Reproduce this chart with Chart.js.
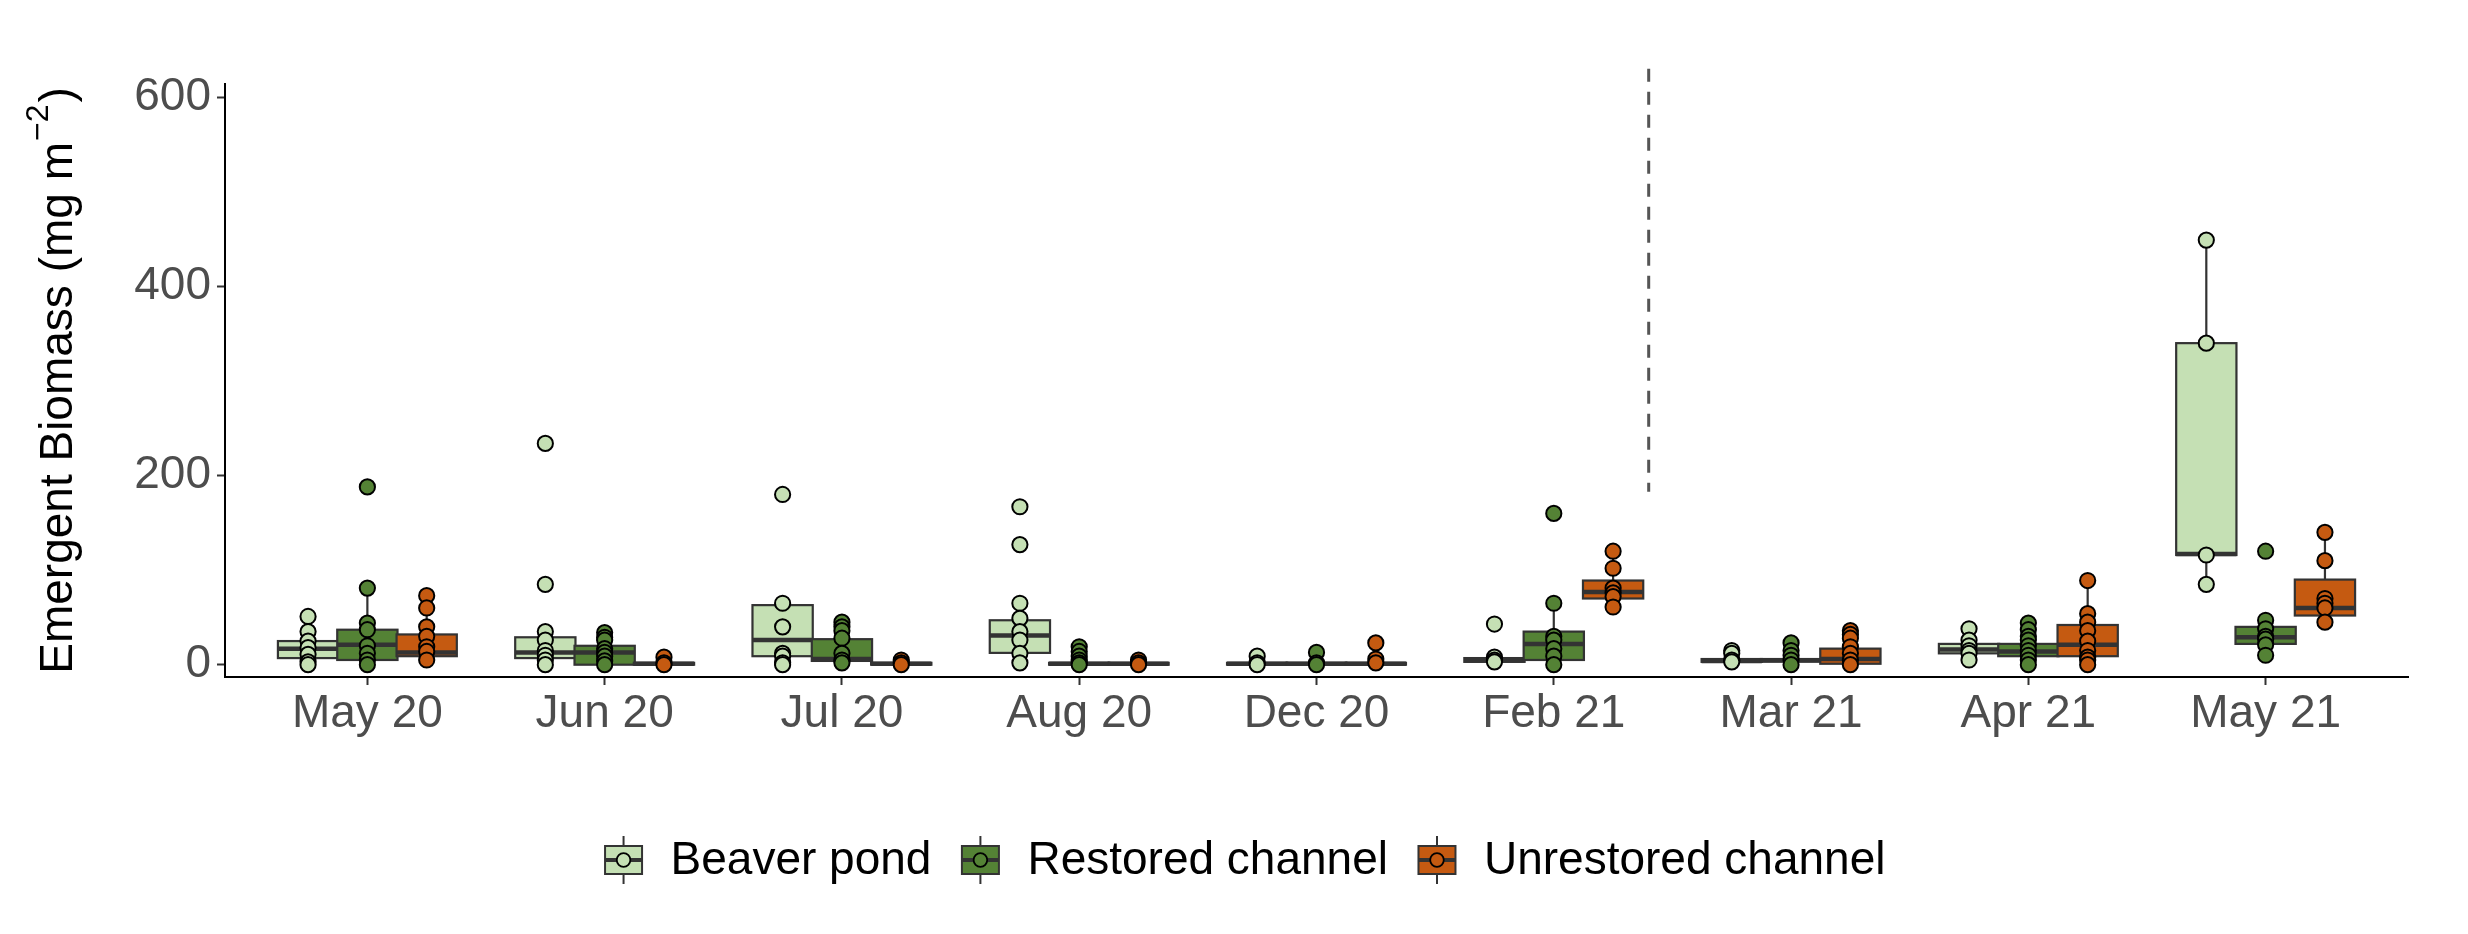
<!DOCTYPE html>
<html>
<head>
<meta charset="utf-8">
<script src="https://cdn.jsdelivr.net/npm/chart.js@4.4.1/dist/chart.umd.min.js"></script>
<style>
  html, body { margin: 0; padding: 0; background: #fff; }
  #wrap { width: 2468px; height: 934px; }
</style>
</head>
<body>
<div id="wrap"><canvas id="biomassChart" width="2468" height="934"></canvas></div>
<script>
const categories = ['May 20', 'Jun 20', 'Jul 20', 'Aug 20', 'Dec 20', 'Feb 21', 'Mar 21', 'Apr 21', 'May 21'];
const sites = ['Beaver pond', 'Restored channel', 'Unrestored channel'];
const siteColors = ['#C5E0B4', '#548235', '#C55A11'];
const yTicks = [0, 200, 400, 600];

// box summaries per sampling month (mg m-2)
const beaverLow    = [0, 0, 0, 2, 0, 3, 3, 5, 85];
const beaverQ1     = [7, 7, 9, 12.5, 0, 3, 3, 12, 116];
const beaverMedian = [17, 13, 26, 31, 1, 5, 4, 16, 117];
const beaverQ3     = [25, 29, 63, 47, 2, 7, 6, 22, 340];
const beaverHigh   = [51, 35, 65, 65, 2, 8, 10, 38, 449];

const restoredLow    = [0, 0, 2, 0, 0, 0, 0, 0, 10];
const restoredQ1     = [5, 0, 4, 0, 0, 5, 3.5, 9, 22];
const restoredMedian = [21, 13, 6, 1, 1, 22, 4.5, 14, 29];
const restoredQ3     = [37, 20, 27, 2, 2, 35, 6, 22, 40];
const restoredHigh   = [81, 34, 45, 2, 2, 65, 6, 40, 47];

const unrestoredLow    = [5, 0, 0, 0, 0, 61, 0, 0, 45];
const unrestoredQ1     = [9, 0, 0, 0, 0, 70, 1, 9, 52];
const unrestoredMedian = [13, 1, 1, 1, 1, 77, 6, 21, 60];
const unrestoredQ3     = [32, 2, 2, 2, 2, 89, 17, 42, 90];
const unrestoredHigh   = [60, 2, 2, 2, 5, 120, 36, 89, 140];

// individual samples
const beaverPoints = [
  [51, 35, 25, 18, 11, 3, 0],
  [234, 85, 35, 26, 15, 10, 5, 0],
  [180, 65, 40, 12, 9, 2, 0],
  [167, 127, 65, 49, 35, 26, 12, 2],
  [9, 2, 0],
  [43, 8, 5, 3],
  [15, 12, 5, 3],
  [38, 26, 20, 15, 12, 5],
  [449, 340, 116, 85]
];
const restoredPoints = [
  [188, 81, 44, 37, 20, 12, 5, 0],
  [34, 29, 26, 17, 13, 9, 4, 0],
  [45, 40, 36, 28, 12, 5, 2],
  [19, 14, 9, 5, 2, 0],
  [13, 2, 0],
  [160, 65, 30, 26, 17, 9, 0],
  [23, 15, 10, 5, 0],
  [44, 37, 30, 26, 20, 15, 10, 5, 0],
  [120, 47, 38, 30, 27, 21, 10]
];
const unrestoredPoints = [
  [73, 60, 40, 30, 19, 14, 5],
  [8, 2, 0],
  [5, 2, 0],
  [5, 2, 0],
  [23, 6, 2],
  [120, 102, 81, 76, 72, 61],
  [36, 32, 28, 19, 12, 5, 0],
  [89, 54, 45, 36, 25, 15, 8, 5, 0],
  [140, 110, 70, 65, 60, 45]
];

const dodge = [-0.25, 0, 0.25];
const boxHalf = 0.127;
const dividerX = 5.4;
const dividerRange = [183, 630];

const series = [
  { low: beaverLow, q1: beaverQ1, med: beaverMedian, q3: beaverQ3, high: beaverHigh, pts: beaverPoints },
  { low: restoredLow, q1: restoredQ1, med: restoredMedian, q3: restoredQ3, high: restoredHigh, pts: restoredPoints },
  { low: unrestoredLow, q1: unrestoredQ1, med: unrestoredMedian, q3: unrestoredQ3, high: unrestoredHigh, pts: unrestoredPoints }
];

const FONT = '"Liberation Sans", Arial, sans-serif';
Chart.defaults.font.family = FONT;
Chart.defaults.font.size = 46;

const POINT_R = 7.6;

const datasets = series.map((s, k) => ({
  label: sites[k],
  data: s.pts.flatMap((vals, i) => vals.map(v => ({ x: i + dodge[k], y: v }))),
  pointRadius: POINT_R,
  pointHoverRadius: POINT_R,
  pointBorderWidth: 2,
  pointBorderColor: '#000000',
  pointBackgroundColor: siteColors[k],
  showLine: false
}));

function drawBox(ctx, x, y, s, k, i) {
  const cx = x.getPixelForValue(i + dodge[k]);
  const left = x.getPixelForValue(i + dodge[k] - boxHalf);
  const right = x.getPixelForValue(i + dodge[k] + boxHalf);
  const yLow = y.getPixelForValue(s.low[i]);
  const yQ1 = y.getPixelForValue(s.q1[i]);
  const yMed = y.getPixelForValue(s.med[i]);
  const yQ3 = y.getPixelForValue(s.q3[i]);
  const yHigh = y.getPixelForValue(s.high[i]);

  ctx.strokeStyle = '#333333';
  ctx.lineWidth = 2.2;
  ctx.beginPath();
  ctx.moveTo(cx, yHigh); ctx.lineTo(cx, yQ3);
  ctx.moveTo(cx, yQ1); ctx.lineTo(cx, yLow);
  ctx.stroke();

  ctx.fillStyle = siteColors[k];
  ctx.fillRect(left, yQ3, right - left, yQ1 - yQ3);
  ctx.strokeRect(left, yQ3, right - left, yQ1 - yQ3);

  ctx.lineWidth = 4.5;
  ctx.beginPath();
  ctx.moveTo(left, yMed); ctx.lineTo(right, yMed);
  ctx.stroke();
}

const boxPlugin = {
  id: 'boxes',
  beforeDatasetsDraw(chart) {
    const { ctx, scales: { x, y } } = chart;
    ctx.save();
    series.forEach((s, k) => {
      categories.forEach((c, i) => drawBox(ctx, x, y, s, k, i));
    });
    ctx.restore();
  }
};

const extrasPlugin = {
  id: 'extras',
  afterDraw(chart) {
    const { ctx, scales: { x, y }, chartArea } = chart;
    ctx.save();

    // dashed divider between the two years
    const dx = x.getPixelForValue(dividerX);
    ctx.strokeStyle = '#555555';
    ctx.lineWidth = 3;
    ctx.setLineDash([13, 10]);
    ctx.beginPath();
    ctx.moveTo(dx, y.getPixelForValue(dividerRange[1]));
    ctx.lineTo(dx, y.getPixelForValue(dividerRange[0]));
    ctx.stroke();
    ctx.setLineDash([]);

    // y axis title with superscript
    const main = 'Emergent Biomass (mg m';
    const sup = '\u22122';
    ctx.fillStyle = '#000000';
    ctx.textBaseline = 'alphabetic';
    ctx.textAlign = 'left';
    ctx.font = '46px ' + FONT;
    const w1 = ctx.measureText(main).width;
    const w3 = ctx.measureText(')').width;
    ctx.font = '32px ' + FONT;
    const w2 = ctx.measureText(sup).width;
    const total = w1 + w2 + w3 + 3;
    ctx.translate(72, (chartArea.top + chartArea.bottom) / 2);
    ctx.rotate(-Math.PI / 2);
    let tx = -total / 2;
    ctx.font = '46px ' + FONT;
    ctx.fillText(main, tx, 0);
    tx += w1 + 1;
    ctx.font = '32px ' + FONT;
    ctx.fillText(sup, tx, -24);
    tx += w2 + 2;
    ctx.font = '46px ' + FONT;
    ctx.fillText(')', tx, 0);
    ctx.restore();

    // legend
    ctx.save();
    const keyW = 50, keyGap = 22, itemGap = 24, cy = 860;
    ctx.font = '46px ' + FONT;
    const widths = sites.map(t => ctx.measureText(t).width);
    const full = widths.reduce((a, w) => a + keyW + keyGap + w, 0) + itemGap * (sites.length - 1);
    let lx = 1242 - full / 2;
    sites.forEach((name, k) => {
      const kc = lx + keyW / 2;
      ctx.strokeStyle = '#333333';
      ctx.lineWidth = 2;
      ctx.beginPath();
      ctx.moveTo(kc, cy - 24); ctx.lineTo(kc, cy + 24);
      ctx.stroke();
      ctx.fillStyle = siteColors[k];
      ctx.fillRect(kc - 18.5, cy - 14, 37, 28);
      ctx.strokeRect(kc - 18.5, cy - 14, 37, 28);
      ctx.lineWidth = 4;
      ctx.beginPath();
      ctx.moveTo(kc - 18.5, cy); ctx.lineTo(kc + 18.5, cy);
      ctx.stroke();
      ctx.beginPath();
      ctx.arc(kc, cy, 6.8, 0, Math.PI * 2);
      ctx.fillStyle = siteColors[k];
      ctx.fill();
      ctx.lineWidth = 1.8;
      ctx.strokeStyle = '#000000';
      ctx.stroke();

      ctx.fillStyle = '#000000';
      ctx.textAlign = 'left';
      ctx.textBaseline = 'middle';
      ctx.fillText(name, lx + keyW + keyGap, cy + 1);
      lx += keyW + keyGap + widths[k] + itemGap;
    });
    ctx.restore();
  }
};

new Chart(document.getElementById('biomassChart'), {
  type: 'scatter',
  data: { datasets: datasets },
  options: {
    responsive: false,
    animation: false,
    devicePixelRatio: 1,
    layout: { padding: { top: 84, right: 60, bottom: 0, left: 0 } },
    plugins: {
      legend: { display: false },
      tooltip: { enabled: false }
    },
    scales: {
      x: {
        type: 'linear',
        min: -0.6,
        max: 8.6,
        afterBuildTicks: (scale) => { scale.ticks = categories.map((c, i) => ({ value: i })); },
        afterFit: (scale) => { scale.height = 257; },
        ticks: {
          callback: (v) => categories[v],
          color: '#4d4d4d',
          font: { size: 46 },
          padding: 2,
          autoSkip: false,
          maxRotation: 0
        },
        grid: { drawOnChartArea: false, tickLength: 8, tickWidth: 2, tickColor: '#333333' },
        border: { color: '#000000', width: 2 }
      },
      y: {
        min: -13,
        max: 614,
        afterBuildTicks: (scale) => { scale.ticks = yTicks.map(v => ({ value: v })); },
        afterFit: (scale) => { scale.width = 225; },
        ticks: { color: '#4d4d4d', font: { size: 46 }, padding: 6 },
        grid: { drawOnChartArea: false, tickLength: 8, tickWidth: 2, tickColor: '#333333' },
        border: { color: '#000000', width: 2 }
      }
    }
  },
  plugins: [boxPlugin, extrasPlugin]
});
</script>
</body>
</html>
